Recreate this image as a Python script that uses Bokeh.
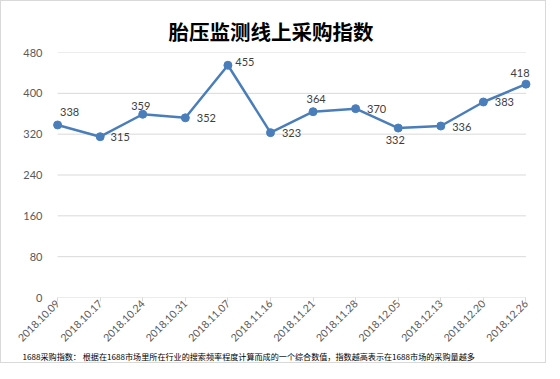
import math
from bokeh.plotting import figure
from bokeh.models import Range1d, FixedTicker, Title
from bokeh.embed import file_html
from bokeh.resources import INLINE

# ---- data ----
dates = ["2018.10.09", "2018.10.17", "2018.10.24", "2018.10.31", "2018.11.07", "2018.11.16",
         "2018.11.21", "2018.11.28", "2018.12.05", "2018.12.13", "2018.12.20", "2018.12.26"]
values = [338, 315, 359, 352, 455, 323, 364, 370, 332, 336, 383, 418]
y_ticks = [0, 80, 160, 240, 320, 400, 480]
title_text = "胎压监测线上采购指数"
note_text = "1688采购指数：  根据在1688市场里所在行业的搜索频率程度计算而成的一个综合数值，指数越高表示在1688市场的采购量越多"

# ---- label placement (pixels) ----
lbl_dx = [12, 20, -2, 21, 17, 21, 3, 21, -3, 21, 21, -6]
lbl_dy = [-13, 0, -8, 0, -3, 0, -13, 0, 12, 1, 0, -11]

W, H = 544, 361
ML, MR, MT, MB = 51, 16, 51, 67
XLAST = len(values) - 1
XSTART, XEND = -0.12, 11.13
YMAX = 480

BLUE = "#4a7ebb"
GRID = "#d9d9d9"

p = figure(width=W, height=H, output_backend="svg", toolbar_location=None,
           x_range=Range1d(XSTART, XEND), y_range=Range1d(0, YMAX),
           min_border_left=ML, min_border_right=MR, min_border_top=MT, min_border_bottom=MB)
p.outline_line_color = None
p.background_fill_color = "white"
p.border_fill_color = "white"
p.styles = {"border": "1px solid #d9d9d9", "box-sizing": "content-box"}

p.title.text = title_text
p.title.align = "left"
p.title.offset = 116
p.title.text_font = "Noto Sans CJK SC"
p.title.text_font_style = "bold"
p.title.text_font_size = "20.5px"
p.title.text_color = "#000000"
p.title.standoff = 13

note = Title(text=note_text, align="left", text_font="Noto Sans CJK SC",
             text_font_style="normal", text_font_size="8.1px", text_color="#000000",
             offset=-30, standoff=0)
p.add_layout(note, "below")

xs = list(range(len(values)))

# horizontal gridlines spanning first to last category
p.segment(x0=[0] * len(y_ticks), x1=[XLAST] * len(y_ticks), y0=y_ticks, y1=y_ticks,
          line_color=GRID, line_width=1)

p.line(xs, values, line_color=BLUE, line_width=2.5)
p.scatter(xs, values, size=8, fill_color=BLUE, line_color=BLUE)
p.text(xs, values, text=[str(v) for v in values], x_offset=lbl_dx, y_offset=lbl_dy,
       text_align="center", text_baseline="middle", text_font_size="11px",
       text_color="#404040", text_font={"value": "Lato"})

# axes
p.xaxis.ticker = FixedTicker(ticks=xs)
p.xaxis.major_label_overrides = {i: d for i, d in enumerate(dates)}
p.xaxis.major_label_orientation = math.pi / 4
p.xaxis.axis_line_color = None
p.xaxis.major_tick_line_color = GRID
p.xaxis.major_tick_in = 0
p.xaxis.major_tick_out = 4
p.xaxis.minor_tick_line_color = None
p.xaxis.major_label_text_font = "Lato"
p.xaxis.major_label_text_font_size = "10.5px"
p.xaxis.major_label_text_color = "#595959"
p.xaxis.major_label_standoff = 0

p.yaxis.ticker = FixedTicker(ticks=y_ticks)
p.yaxis.axis_line_color = None
p.yaxis.major_tick_line_color = None
p.yaxis.minor_tick_line_color = None
p.yaxis.major_label_text_font = "Lato"
p.yaxis.major_label_text_font_size = "11px"
p.yaxis.major_label_text_color = "#595959"
p.yaxis.major_label_standoff = 4

p.xgrid.grid_line_color = None
p.ygrid.grid_line_color = None

open("out.html", "w").write(file_html(p, INLINE))
